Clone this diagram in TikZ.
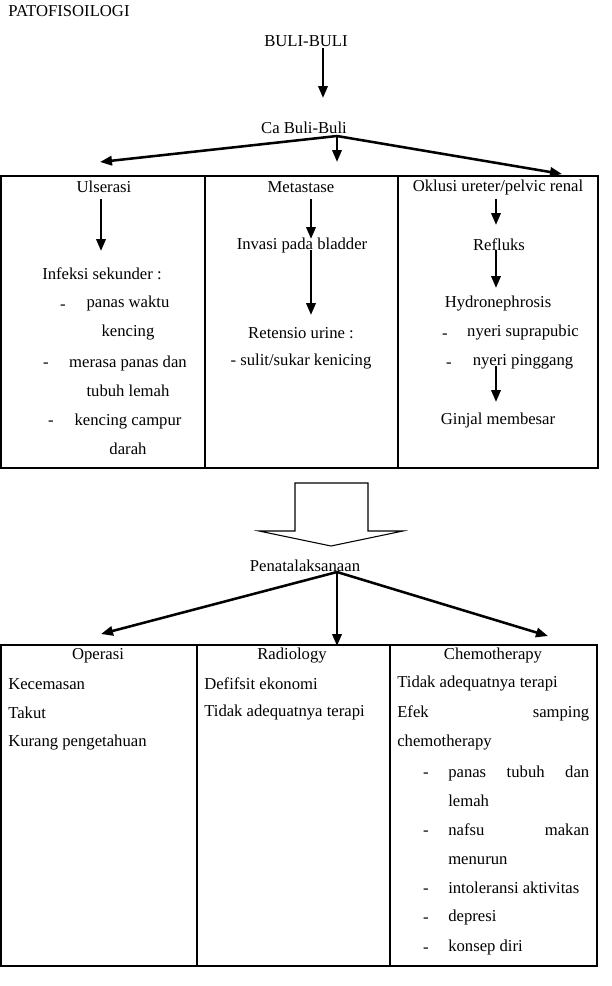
\documentclass[tikz,border=0pt]{standalone}
\usepackage{fontspec}
\setmainfont{Liberation Serif}
\usetikzlibrary{arrows.meta}
\tikzset{
  txt/.style={font=\fontsize{12.5}{21.75}\selectfont, inner sep=0pt},
  txtl/.style={txt, anchor=west},
  strip/.style={txt, yshift=-2.6pt},
  arr/.style={line width=1.9pt, -{Triangle[length=9pt,width=7pt]}},
  tbl/.style={line width=1.1pt},
}
\begin{document}
\begin{tikzpicture}[x=0.75pt,y=-0.75pt]
  \useasboundingbox[fill=white] (0,0) rectangle (611,986);

  %% Judul
  \node[txtl] (judul) at (8,11) {PATOFISOILOGI};
  \node[txt] (buli) at (306,41) {BULI-BULI};
  \node[txt] (cabuli) at (304,128) {Ca Buli-Buli};
  \coordinate (bs) at (323,48);
  \coordinate (be) at (323,98);
  \draw[arr] (bs) -- (be);

  %% Cabang ke tiga kolom
  \coordinate (cb) at (337,136);
  \coordinate (cbl) at (100,162);
  \coordinate (cbm) at (337,162);
  \coordinate (cbr) at (562,174);
  \draw[arr] (cb) -- (cbl);
  \draw[arr] (cb) -- (cbm);
  \draw[arr] (cb) -- (cbr);

  %% Tabel atas
  \draw[tbl] (1,176) rectangle (598,468);
  \draw[tbl] (205,176) -- (205,468);
  \draw[tbl] (398,176) -- (398,468);

  \node[txt] (ulserasi) at (104,187) {Ulserasi};
  \node[txt] (metastase) at (301,187) {Metastase};
  \node[txt] (oklusi) at (498,187) {Oklusi ureter/pelvic renal};

  %% Kolom 1
  \coordinate (u1) at (101,199);
  \coordinate (u2) at (101,251);
  \draw[arr] (u1) -- (u2);
  \node[txt] (infeksi) at (102,274) {Infeksi sekunder :};
  \node[strip] (d1) at (63,304) {-};
  \node[txt,align=center] (inf1) at (128,318) {panas waktu\\kencing};
  \node[strip] (d2) at (46,362) {-};
  \node[txt,align=center] (inf2) at (128,376) {merasa panas dan\\tubuh lemah};
  \node[strip] (d3) at (51,420) {-};
  \node[txt,align=center] (inf3) at (128,434) {kencing campur\\darah};

  %% Kolom 2
  \coordinate (m1) at (311,199);
  \coordinate (m2) at (311,239);
  \coordinate (m3) at (311,250);
  \coordinate (m4) at (311,315);
  \draw[arr] (m1) -- (m2);
  \draw[arr] (m3) -- (m4);
  \node[txt] (invasi) at (302,245) {Invasi pada bladder};
  \node[txt] (retensio) at (301,333) {Retensio urine :};
  \node[txt] (sulit) at (301,362) {- sulit/sukar kenicing};

  %% Kolom 3
  \coordinate (o1) at (496,199);
  \coordinate (o2) at (496,225);
  \coordinate (o3) at (496,250);
  \coordinate (o4) at (496,288);
  \coordinate (o5) at (496,366);
  \coordinate (o6) at (496,402);
  \draw[arr] (o1) -- (o2);
  \draw[arr] (o3) -- (o4);
  \draw[arr] (o5) -- (o6);
  \node[txt] (refluks) at (499,245) {Refluks};
  \node[txt] (hydro) at (498,304) {Hydronephrosis};
  \node[strip] (d4) at (445,333) {-};
  \node[txt] (nyeri1) at (523,333) {nyeri suprapubic};
  \node[strip] (d5) at (449,362) {-};
  \node[txt] (nyeri2) at (523,362) {nyeri pinggang};
  \node[txt] (ginjal) at (498,420) {Ginjal membesar};

  %% Panah blok
  \draw[line width=0.8pt] (295,483) -- (368,483) -- (368,531) -- (403,531)
    -- (331,546) -- (259,531) -- (295,531) -- cycle;

  \node[txt] (penata) at (305,566) {Penatalaksanaan};
  \coordinate (pb) at (337,572);
  \coordinate (pbl) at (101,634);
  \coordinate (pbm) at (337,646);
  \coordinate (pbr) at (548,636);
  \draw[arr] (pb) -- (pbl);
  \draw[arr] (pb) -- (pbm);
  \draw[arr] (pb) -- (pbr);

  %% Tabel bawah
  \draw[tbl] (1,645) rectangle (597,966);
  \draw[tbl] (197,645) -- (197,966);
  \draw[tbl] (390,645) -- (390,966);

  \node[txt] (operasi) at (98,656) {Operasi};
  \node[txt] (radiology) at (292,656) {Radiology};
  \node[txt] (chemo) at (493,656) {Chemotherapy};

  \node[txtl] (cemas) at (8,684) {Kecemasan};
  \node[txtl] (takut) at (8,713) {Takut};
  \node[txtl] (kurang) at (8,743) {Kurang pengetahuan};

  \node[txtl] (defisit) at (204,684) {Defifsit ekonomi};
  \node[txtl] (tidak1) at (204,713) {Tidak adequatnya terapi};

  \node[txtl] (tidak2) at (397,684) {Tidak adequatnya terapi};
  \node[txtl,text width=144pt,align=left] (efek) at (397,728)
    {Efek\hfill samping\\chemotherapy};
  \node[strip] (d6) at (426,772) {-};
  \node[txtl,text width=105.75pt,align=left] (ef1) at (448,786)
    {panas\hfill tubuh\hfill dan\\lemah};
  \node[strip] (d7) at (426,830) {-};
  \node[txtl,text width=105.75pt,align=left] (ef2) at (448,844)
    {nafsu\hfill makan\\menurun};
  \node[strip] (d8) at (426,888) {-};
  \node[txtl] (ef3) at (448,888) {intoleransi aktivitas};
  \node[strip] (d9) at (426,917) {-};
  \node[txtl] (ef4) at (448,917) {depresi};
  \node[strip] (d10) at (426,947) {-};
  \node[txtl] (ef5) at (448,947) {konsep diri};
\end{tikzpicture}
\end{document}
